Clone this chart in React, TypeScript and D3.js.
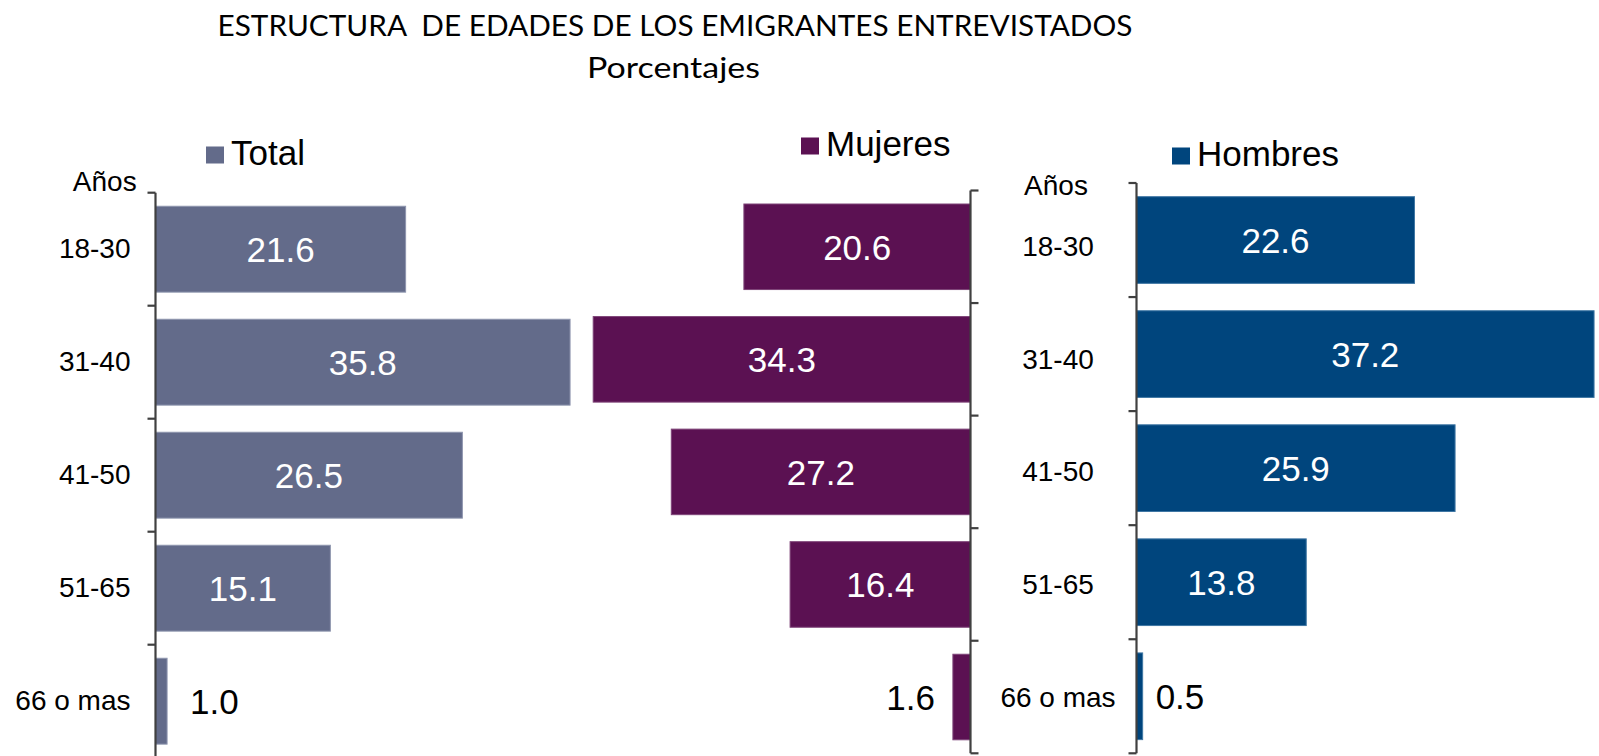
import React from "react";
import * as d3 from "d3";

const categories = ["18-30", "31-40", "41-50", "51-65", "66 o mas"];
const totalValues = [21.6, 35.8, 26.5, 15.1, 1.0];
const mujeresValues = [20.6, 34.3, 27.2, 16.4, 1.6];
const hombresValues = [22.6, 37.2, 25.9, 13.8, 0.5];
const seriesNames = ["Total", "Mujeres", "Hombres"];
const colors = ["#636B8A", "#5B1152", "#00457D"];
const strokes = ["#8E95AE", "#7E4478", "#3F77A4"];

const W = 1599;
const H = 756;
const ARIAL = "'Liberation Sans', Arial, sans-serif";
const TITLE_FONT = "Lato, 'Open Sans', sans-serif";

type Panel = {
  values: number[];
  axisX: number;
  yTop: number;
  yBottom: number;
  pxPerUnit: number;
  dir: 1 | -1;
  color: string;
  stroke: string;
  gap: number;
  name: string;
  legendX: number;
  legendBase: number;
};

const panels: Panel[] = [
  { values: totalValues, axisX: 155.5, yTop: 192.7, yBottom: 757.7, pxPerUnit: 11.58, dir: 1, color: colors[0], stroke: strokes[0], gap: 23, name: seriesNames[0], legendX: 206, legendBase: 165 },
  { values: mujeresValues, axisX: 970.5, yTop: 190.5, yBottom: 753.3, pxPerUnit: 11.0, dir: -1, color: colors[1], stroke: strokes[1], gap: 18, name: seriesNames[1], legendX: 801, legendBase: 156 },
  { values: hombresValues, axisX: 1136.5, yTop: 183, yBottom: 753.3, pxPerUnit: 12.3, dir: 1, color: colors[2], stroke: strokes[2], gap: 13, name: seriesNames[2], legendX: 1172, legendBase: 166 },
];

function PanelView({ p }: { p: Panel }) {
  const x = d3
    .scaleLinear()
    .domain([0, 40])
    .range([p.axisX, p.axisX + p.dir * 40 * p.pxPerUnit]);
  const y = d3
    .scaleBand<string>()
    .domain(categories)
    .range([p.yTop, p.yBottom])
    .paddingInner(0.24)
    .paddingOuter(0.12);
  const step = y.step();
  const tickYs = d3.range(categories.length + 1).map((i) => p.yTop + i * step);
  const tickLen = 8;
  const tickDir = p.dir === 1 ? -1 : 1;
  return (
    <g>
      {p.values.map((v, i) => {
        const x0 = Math.min(x(0), x(v));
        const w = Math.abs(x(v) - x(0));
        const by = y(categories[i])!;
        const bh = y.bandwidth();
        const cy = by + bh / 2;
        const inside = v >= 5;
        return (
          <g key={i}>
            <rect x={x0} y={by} width={w} height={bh} fill={p.color} stroke={p.stroke} strokeWidth={1} />
            {inside ? (
              <text x={(x(0) + x(v)) / 2} y={cy + 13} textAnchor="middle" fill="#fff" fontSize={35} fontFamily={ARIAL}>
                {v.toFixed(1)}
              </text>
            ) : (
              <text
                x={x(v) + p.dir * p.gap}
                y={cy + 13}
                textAnchor={p.dir === 1 ? "start" : "end"}
                fill="#000"
                fontSize={35}
                fontFamily={ARIAL}
              >
                {v.toFixed(1)}
              </text>
            )}
          </g>
        );
      })}
      <line x1={p.axisX} x2={p.axisX} y1={p.yTop} y2={p.yBottom} stroke="#404040" strokeWidth={2.2} />
      {tickYs.map((ty, i) => (
        <line key={i} x1={p.axisX} x2={p.axisX + tickDir * tickLen} y1={ty} y2={ty} stroke="#404040" strokeWidth={2.2} />
      ))}
      <rect x={p.legendX} y={p.legendBase - 18.5} width={18} height={17} fill={p.color} />
      <text x={p.legendX + 25} y={p.legendBase} fontSize={35} fontFamily={ARIAL} fill="#000">
        {p.name}
      </text>
    </g>
  );
}

export default function App() {
  const yLeft = d3
    .scaleBand<string>()
    .domain(categories)
    .range([panels[0].yTop, panels[0].yBottom]);
  const yMid = d3
    .scaleBand<string>()
    .domain(categories)
    .range([panels[1].yTop, panels[1].yBottom]);
  return (
    <svg
      width={W}
      height={H}
      style={{ position: "absolute", left: 0, top: 0, background: "#fff" }}
    >
      <rect x={0} y={0} width={W} height={H} fill="#fff" />
      <text
        x={675}
        y={35.7}
        textAnchor="middle"
        fontSize={29}
        fontFamily={TITLE_FONT}
        fill="#000"
        textLength={915}
        lengthAdjust="spacingAndGlyphs"
        style={{ whiteSpace: "pre" }}
      >
        {"ESTRUCTURA  DE EDADES DE LOS EMIGRANTES ENTREVISTADOS"}
      </text>
      <text
        x={673.5}
        y={78.3}
        textAnchor="middle"
        fontSize={29}
        fontFamily={TITLE_FONT}
        fill="#000"
        textLength={173}
        lengthAdjust="spacingAndGlyphs"
      >
        Porcentajes
      </text>
      {panels.map((p, i) => (
        <PanelView key={i} p={p} />
      ))}
      <text x={136.7} y={190.7} textAnchor="end" fontSize={28} fontFamily={ARIAL}>
        Años
      </text>
      <text x={1056} y={195} textAnchor="middle" fontSize={28} fontFamily={ARIAL}>
        Años
      </text>
      {categories.map((c) => (
        <text key={"l" + c} x={130.5} y={yLeft(c)! + yLeft.bandwidth() / 2 + 9} textAnchor="end" fontSize={28} fontFamily={ARIAL}>
          {c}
        </text>
      ))}
      {categories.map((c) => (
        <text key={"m" + c} x={1058} y={yMid(c)! + yMid.bandwidth() / 2 + 9.5} textAnchor="middle" fontSize={28} fontFamily={ARIAL}>
          {c}
        </text>
      ))}
    </svg>
  );
}
